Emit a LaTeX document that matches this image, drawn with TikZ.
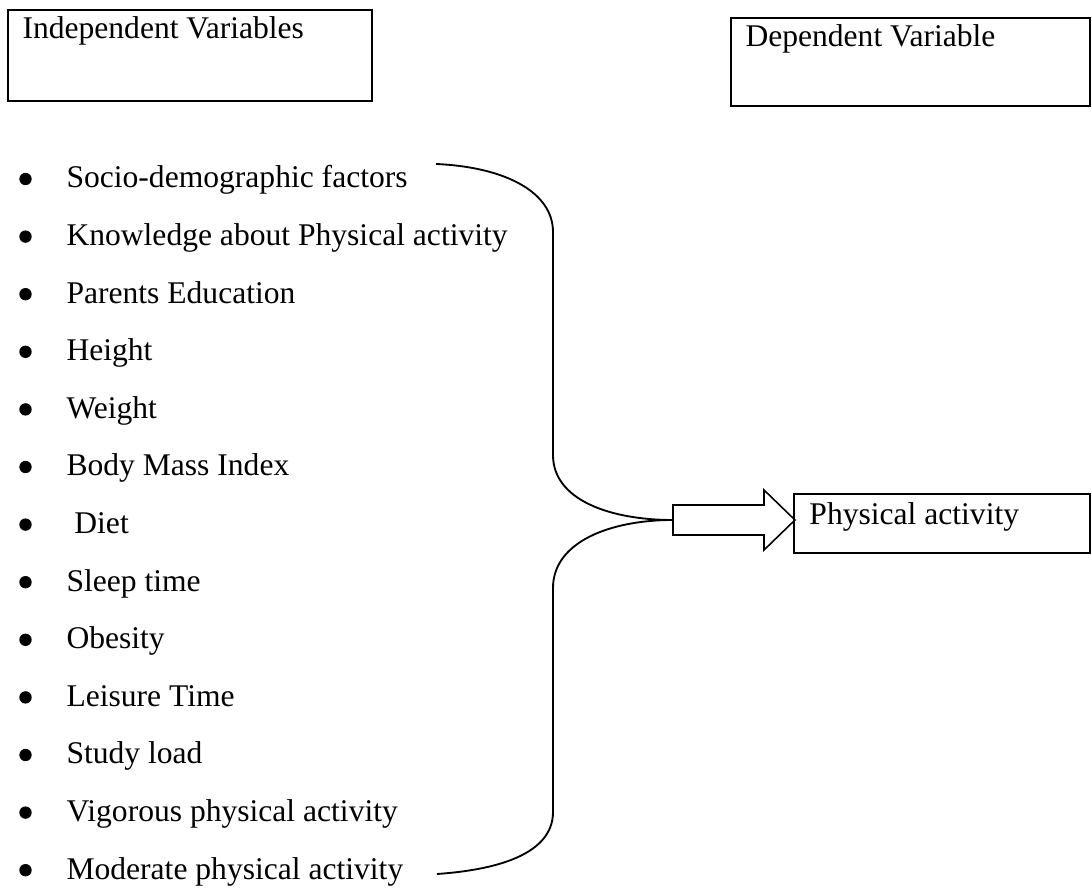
\documentclass[tikz,border=0pt]{standalone}
\usepackage{fontspec}
\setmainfont{Liberation Serif}
\usepackage{tikz}

\tikzset{
  varbox/.style={draw, line width=0.8pt},
  boxtitle/.style={anchor=base west},
  listitem/.style={anchor=base west},
  bulletmark/.style={circle, fill=black, minimum size=4.7pt},
  bracket/.style={line width=0.7pt},
  blockarrow/.style={line width=0.6pt, line join=miter}
}

\begin{document}
\begin{tikzpicture}[x=0.38pt, y=-0.38pt, every node/.style={inner sep=0pt, font=\fontsize{12}{14}\selectfont}]
  \useasboundingbox (0,0) rectangle (1092,889);

  % header boxes
  \node[varbox, minimum width=138.3pt, minimum height=34.6pt] (indep) at (190,55.5) {};
  \node[boxtitle] (indeptitle) at ([shift={(15,30)}]indep.north west) {Independent Variables};
  \node[varbox, minimum width=136.4pt, minimum height=33.4pt] (dep) at (910.5,62) {};
  \node[boxtitle] (deptitle) at ([shift={(15,30)}]dep.north west) {Dependent Variable};

  % list of factors
  \foreach \txt [count=\i] in {Socio-demographic factors, Knowledge about Physical activity,
      Parents Education, Height, Weight, Body Mass Index, \ Diet, Sleep time, Obesity,
      Leisure Time, Study load, Vigorous physical activity, Moderate physical activity} {
    \node[bulletmark] (b\i) at (25.5,{179+57.6*(\i-1)}) {};
    \node[listitem] (item\i) at (66,{188+57.6*(\i-1)}) {\txt};
  }

  % outcome
  \node[varbox, minimum width=112.5pt, minimum height=22.4pt] (pa) at (942,523.5) {};
  \node[boxtitle] (patitle) at ([shift={(16,32)}]pa.north west) {Physical activity};

  % block arrow
  \coordinate (arrowtail) at (673,520);
  \draw[blockarrow] (673,505) -- (764,505) -- (764,490) -- (795,520)
    -- (764,550) -- (764,535) -- (673,535) -- cycle;

  % brace
  \coordinate (topend) at (436,164);
  \coordinate (botend) at (437,874);
  \draw[bracket] (topend) .. controls (505,167) and (553,192) .. (553,232)
    -- (553,455) .. controls (553,500) and (610,520) .. (arrowtail);
  \draw[bracket] (arrowtail) .. controls (610,520) and (553,542) .. (553,588)
    -- (553,812) .. controls (553,855) and (495,870) .. (botend);
\end{tikzpicture}
\end{document}
